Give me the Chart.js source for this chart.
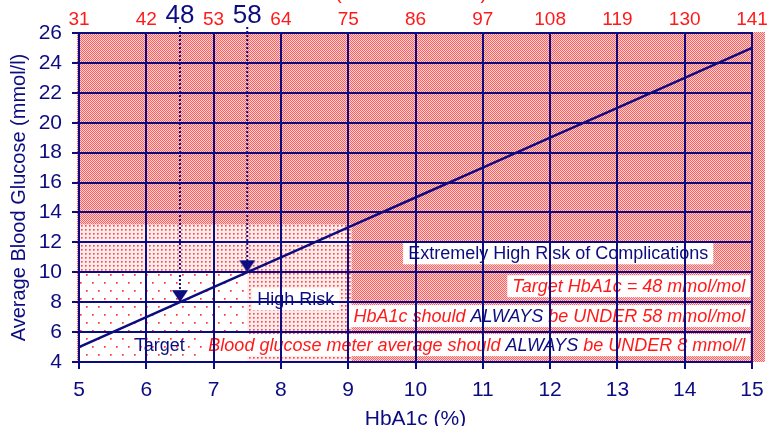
<!DOCTYPE html>
<html>
<head>
<meta charset="utf-8">
<script src="https://cdn.jsdelivr.net/npm/chart.js@4.4.1/dist/chart.umd.min.js"></script>
<style>
html, body { margin: 0; padding: 0; background: #fff; }
#wrap { width: 779px; height: 426px; }
</style>
</head>
<body>
<div id="wrap"><canvas id="chartHba1c"></canvas></div>
<script>
const hba1c = [5, 6, 7, 8, 9, 10, 11, 12, 13, 14, 15];
const glicemia = [5, 7, 9, 11, 13, 15, 17, 19, 21, 23, 25];
const mmolMol = ['31', '42', '53', '64', '75', '86', '97', '108', '119', '130', '141'];

// metas marcadas com seta
const metasHba1c = [6.5, 7.5];
const metasMmol = ['48', '58'];
const metasGlicemia = [8, 10];

// limites das zonas de risco
const limiteGlicAlvo = 10;
const limiteGlicAlto = 13.2;
const limiteHbAlvo = 7.5;
const limiteHbAlto = 9.05;

const azul = '#0c0c80';
const vermelho = '#ff1a1a';
const fonte = "'Liberation Sans', Arial, sans-serif";
const fonteEstreita = "'Liberation Sans Narrow', 'Liberation Sans', Arial, sans-serif";

const rotulos = [
    { x: 12.12, y: 11.27, align: 'center', caixa: true, italico: false, partes: [['Extremely High Risk of Complications', azul]] },
    { x: 14.9, y: 9.07, align: 'right', caixa: true, italico: true, partes: [['Target HbA1c = 48 mmol/mol', vermelho]] },
    { x: 14.9, y: 7.07, align: 'right', caixa: true, italico: true, partes: [['HbA1c should ', vermelho], ['ALWAYS', azul], [' be UNDER 58 mmol/mol', vermelho]] },
    { x: 14.9, y: 5.13, align: 'right', caixa: true, italico: true, partes: [['Blood glucose meter average should ', vermelho], ['ALWAYS', azul], [' be UNDER 8 mmol/l', vermelho]] },
    { x: 8.22, y: 8.2, align: 'center', caixa: true, italico: false, partes: [['High Risk', azul]] },
    { x: 6.2, y: 5.13, align: 'center', caixa: false, italico: false, partes: [['Target', azul]] }
];

function criarPadrao(ctx, w, h, fundo, pixels) {
    const c = document.createElement('canvas');
    c.width = w; c.height = h;
    const g = c.getContext('2d');
    g.fillStyle = fundo;
    g.fillRect(0, 0, w, h);
    pixels.forEach(([x, y, cor]) => { g.fillStyle = cor; g.fillRect(x, y, 1, 1); });
    return ctx.createPattern(c, 'repeat');
}

// seta para baixo com a ponta no centro da imagem
function criarSeta() {
    const c = document.createElement('canvas');
    c.width = 18; c.height = 26;
    const g = c.getContext('2d');
    g.fillStyle = azul;
    g.beginPath();
    g.moveTo(1, 1); g.lineTo(17, 1); g.lineTo(9, 13); g.closePath();
    g.fill();
    return c;
}
const seta = criarSeta();

const fundoZonas = {
    id: 'fundoZonas',
    beforeDraw(chart) {
        const { ctx, chartArea: a, scales: { x, y } } = chart;
        const denso = criarPadrao(ctx, 2, 2, '#ffd6d6', [[0, 0, '#ff5c5c'], [1, 1, '#ff5c5c']]);
        const medio = criarPadrao(ctx, 4, 4, '#ffecec', [[1, 1, '#ff4a4a'], [2, 1, '#ff8080'], [1, 2, '#ff8080'], [2, 2, '#ffa8a8']]);
        const esparso = criarPadrao(ctx, 12, 16, '#ffffff', [[2, 2, '#ff3c3c'], [3, 2, '#ff7070'], [2, 3, '#ff7070'], [3, 3, '#ffa0a0'],
            [8, 10, '#ff3c3c'], [9, 10, '#ff7070'], [8, 11, '#ff7070'], [9, 11, '#ffa0a0']]);
        ctx.save();
        ctx.fillStyle = denso;
        ctx.fillRect(a.left - 2, a.top - 1, a.right - a.left + 15, a.bottom - a.top + 1);
        const xa = x.getPixelForValue(5), xb = x.getPixelForValue(limiteHbAlvo), xc = x.getPixelForValue(limiteHbAlto);
        const y0 = y.getPixelForValue(4), y1 = y.getPixelForValue(limiteGlicAlvo), y2 = y.getPixelForValue(limiteGlicAlto);
        ctx.fillStyle = medio;
        ctx.fillRect(xa, y2, xc - xa, y0 - y2);
        ctx.fillStyle = esparso;
        ctx.fillRect(xa, y1, xb - xa, y0 - y1);

        // caixas de texto
        ctx.textBaseline = 'middle';
        rotulos.forEach(r => {
            ctx.font = (r.italico ? 'italic ' : '') + '18px ' + fonte;
            const larg = r.partes.reduce((s, p) => s + ctx.measureText(p[0]).width, 0);
            const px = x.getPixelForValue(r.x), py = y.getPixelForValue(r.y);
            let esq = r.align === 'right' ? px - larg : px - larg / 2;
            if (r.caixa) {
                ctx.fillStyle = '#ffffff';
                ctx.fillRect(esq - 5, py - 11, larg + 10, 22);
            }
            ctx.textAlign = 'left';
            r.partes.forEach(([t, cor]) => {
                ctx.fillStyle = cor;
                ctx.fillText(t, esq, py + 1);
                esq += ctx.measureText(t).width;
            });
        });
        ctx.restore();
    },
    afterDraw(chart) {
        const { ctx, scales: { x } } = chart;
        ctx.save();
        ctx.textAlign = 'center';
        ctx.textBaseline = 'alphabetic';
        ctx.fillStyle = azul;
        ctx.font = '26px ' + fonte;
        metasHba1c.forEach((v, i) => ctx.fillText(metasMmol[i], x.getPixelForValue(v), 23));
        // título superior, quase todo fora da imagem
        ctx.font = '20px ' + fonte;
        ctx.fillStyle = vermelho;
        ctx.textAlign = 'left';
        const prefixo = 'HbA1c ';
        ctx.fillText(prefixo + '(IFCC mmol/mol)', 335 - ctx.measureText(prefixo).width, -1);
        ctx.restore();
    }
};

const linhasMeta = metasHba1c.map((v, i) => ({
    data: [{ x: v, y: 26.4 }, { x: v, y: metasGlicemia[i] }],
    showLine: true,
    borderColor: azul,
    borderWidth: 2,
    borderDash: [2, 2],
    pointRadius: [0, 8],
    pointStyle: seta,
    clip: false
}));

const ctx = document.getElementById('chartHba1c').getContext('2d');

const grafico = new Chart(ctx, {
    type: 'scatter',
    data: {
        datasets: [
            {
                data: hba1c.map((v, i) => ({ x: v, y: glicemia[i] })),
                showLine: true,
                borderColor: azul,
                borderWidth: 2.5,
                pointRadius: 0
            },
            ...linhasMeta
        ]
    },
    options: {
        responsive: true,
        maintainAspectRatio: false,
        animation: false,
        layout: { padding: { left: 0, right: 27, top: 0, bottom: 0 } },
        plugins: {
            legend: { display: false },
            tooltip: { enabled: false }
        },
        scales: {
            x: {
                type: 'linear',
                position: 'bottom',
                min: 5,
                max: 15,
                afterFit: s => { s.height = 64; },
                ticks: { stepSize: 1, color: azul, padding: 9, font: { family: fonteEstreita, size: 21 } },
                grid: { color: azul, lineWidth: 2, tickLength: 7 },
                border: { color: azul, width: 2 },
                title: {
                    display: true,
                    text: 'HbA1c (%)',
                    color: azul,
                    padding: { top: 0, bottom: -4 },
                    font: { family: fonteEstreita, size: 21, lineHeight: 1 }
                }
            },
            x2: {
                type: 'linear',
                position: 'top',
                min: 5,
                max: 15,
                afterFit: s => { s.height = 33; },
                ticks: {
                    stepSize: 1,
                    color: vermelho,
                    padding: 2,
                    font: { family: fonte, size: 19 },
                    callback: v => mmolMol[v - 5]
                },
                grid: { drawOnChartArea: false, drawTicks: false },
                border: { color: azul, width: 2 }
            },
            y: {
                type: 'linear',
                min: 4,
                max: 26,
                afterFit: s => { s.width = 79; },
                ticks: { stepSize: 2, color: azul, padding: 10, font: { family: fonte, size: 21 } },
                grid: { color: azul, lineWidth: 2, tickLength: 7 },
                border: { color: azul, width: 2 },
                title: {
                    display: true,
                    text: 'Average Blood Glucose (mmol/l)',
                    color: azul,
                    padding: { top: 7, bottom: 0 },
                    font: { family: fonte, size: 20 }
                }
            }
        }
    },
    plugins: [fundoZonas]
});
</script>
</body>
</html>
